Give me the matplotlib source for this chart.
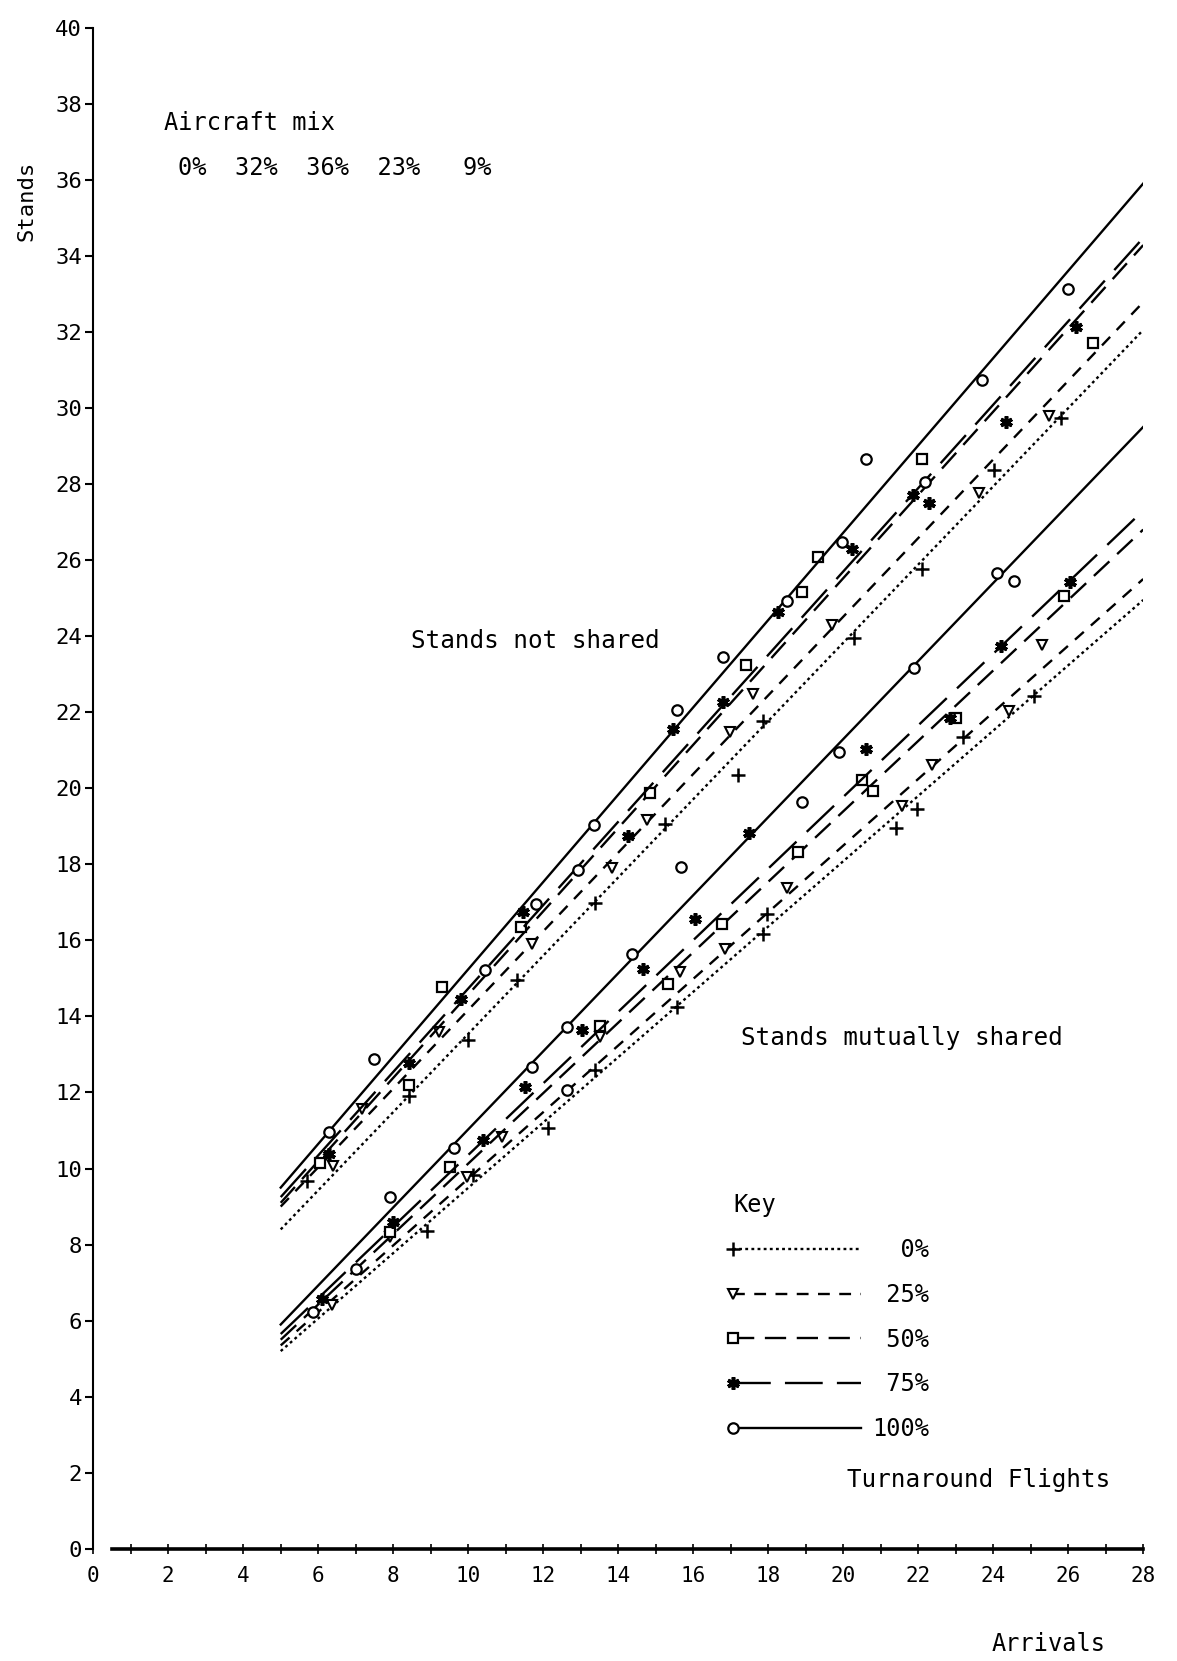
import numpy as np
import matplotlib
matplotlib.use('Agg')
import matplotlib.pyplot as plt
from matplotlib.lines import Line2D
from matplotlib.legend_handler import HandlerLine2D

plt.rcParams['font.family'] = ['DejaVu Sans Mono']

# fitted lines, drawn from 5 to 28 arrivals
fit_x = [5, 28]
# stands not shared
ns_0 = [8.4, 32.05]
ns_25 = [9.0, 32.78]
ns_50 = [9.1, 34.28]
ns_75 = [9.25, 34.47]
ns_100 = [9.5, 35.9]
# stands mutually shared
ms_0 = [5.2, 24.95]
ms_25 = [5.35, 25.5]
ms_50 = [5.5, 26.8]
ms_75 = [5.65, 27.3]
ms_100 = [5.9, 29.5]

# simulation points (both groups), per % of turnaround flights
p0_x = [5.69, 8.42, 10.0, 11.29, 13.38, 15.26, 17.2, 17.87, 20.3, 22.1, 24.03, 25.8,
        8.9, 10.13, 12.13, 13.38, 15.56, 17.87, 17.96, 21.4, 21.98, 23.2, 25.1]
p0_y = [9.67, 11.9, 13.38, 14.96, 16.97, 19.07, 20.36, 21.78, 23.96, 25.77, 28.37, 29.73,
        8.35, 9.83, 11.06, 12.58, 14.26, 16.18, 16.69, 18.95, 19.45, 21.35, 22.43]

p25_x = [6.4, 7.18, 9.21, 11.69, 13.83, 14.77, 16.98, 17.6, 19.69, 23.62, 25.5,
         6.36, 7.91, 9.96, 10.89, 13.51, 15.65, 16.86, 18.49, 21.56, 22.38, 24.42, 25.3]
p25_y = [10.07, 11.57, 13.6, 15.9, 17.89, 19.17, 21.47, 22.47, 24.28, 27.75, 29.78,
         6.41, 8.2, 9.78, 10.82, 13.47, 15.18, 15.76, 17.37, 19.53, 20.6, 22.03, 23.77]

p50_x = [6.05, 8.42, 9.3, 11.4, 14.86, 17.4, 18.9, 19.34, 22.1, 26.67,
         7.91, 9.51, 13.51, 15.34, 16.77, 18.8, 20.49, 20.79, 23.0, 25.9]
p50_y = [10.14, 12.2, 14.78, 16.36, 19.87, 23.25, 25.15, 26.07, 28.65, 31.71,
         8.34, 10.05, 13.75, 14.86, 16.44, 18.33, 20.22, 19.94, 21.85, 25.05]

p75_x = [6.29, 8.42, 9.8, 11.47, 14.27, 15.47, 16.8, 18.27, 20.23, 21.87, 22.3, 24.35, 26.21,
         6.09, 8.0, 10.4, 11.51, 13.03, 14.67, 16.05, 17.48, 20.6, 22.85, 24.2, 26.05]
p75_y = [10.38, 12.77, 14.46, 16.75, 18.74, 21.57, 22.27, 24.64, 26.28, 27.71, 27.49, 29.63, 32.14,
         6.56, 8.59, 10.76, 12.15, 13.64, 15.24, 16.55, 18.83, 21.03, 21.85, 23.74, 25.43]

p100_x = [6.29, 7.5, 10.45, 11.81, 12.94, 13.35, 15.56, 16.79, 18.49, 19.98, 20.6, 22.18, 23.69, 26.0, 15.67,
          5.87, 7.0, 7.91, 9.62, 11.7, 12.63, 12.63, 14.36, 18.89, 19.9, 21.9, 24.1, 24.55]
p100_y = [10.97, 12.87, 15.22, 16.95, 17.85, 19.03, 22.06, 23.46, 24.92, 26.48, 28.66, 28.06, 30.73, 33.12, 17.94,
          6.23, 7.35, 9.24, 10.55, 12.67, 13.73, 12.06, 15.64, 19.64, 20.94, 23.15, 25.66, 25.45]

key_labels = ['  0%', ' 25%', ' 50%', ' 75%', '100%']
mix_text = '0%  32%  36%  23%   9%'

styles = [
    dict(ls=(0, (1.2, 1.4)), marker='+', ms=10, mew=1.8),
    dict(ls=(0, (5, 4)), marker='v', ms=7, mew=1.5, mfc='white'),
    dict(ls=(0, (9, 4.5)), marker='s', ms=7, mew=1.6, mfc='white'),
    dict(ls=(0, (16, 6)), marker=(6, 2, 0), ms=9, mew=2.6),
    dict(ls='-', marker='o', ms=7.5, mew=1.6, mfc='white'),
]
ns_lines = [ns_0, ns_25, ns_50, ns_75, ns_100]
ms_lines = [ms_0, ms_25, ms_50, ms_75, ms_100]
pts = [(p0_x, p0_y), (p25_x, p25_y), (p50_x, p50_y), (p75_x, p75_y), (p100_x, p100_y)]


class MarkerLeft(HandlerLine2D):
    # key sample: marker sits at the left end of the line
    def create_artists(self, legend, orig_handle, xdescent, ydescent,
                       width, height, fontsize, trans):
        y = (height - ydescent) / 2
        line = Line2D([-xdescent, -xdescent + width], [y, y])
        self.update_prop(line, orig_handle, legend)
        line.set_marker('None')
        mark = Line2D([-xdescent], [y])
        self.update_prop(mark, orig_handle, legend)
        mark.set_linestyle('None')
        line.set_transform(trans)
        mark.set_transform(trans)
        return [line, mark]


fig = plt.figure(figsize=(11.77, 16.61), dpi=100)
ax = fig.add_axes([0.0792, 0.0675, 0.8921, 0.9159])

handles = []
for st, ns, ms, (px, py) in zip(styles, ns_lines, ms_lines, pts):
    ax.plot(fit_x, ns, color='black', lw=1.7, ls=st['ls'])
    ax.plot(fit_x, ms, color='black', lw=1.7, ls=st['ls'])
    ax.plot(px, py, ls='none', color='black', marker=st['marker'], ms=st['ms'],
            mew=st['mew'], mfc=st.get('mfc', 'black'), mec='black', clip_on=False)
    handles.append(Line2D([], [], color='black', lw=1.7, ls=st['ls'], marker=st['marker'],
                          ms=st['ms'], mew=st['mew'], mfc=st.get('mfc', 'black'), mec='black'))

ax.set_xlim(0, 28)
ax.set_ylim(0, 40)
ax.set_xticks(np.arange(0, 29, 2))
ax.set_xticks(np.arange(0, 29, 1), minor=True)
ax.set_yticks(np.arange(0, 41, 2))
ax.tick_params(axis='y', direction='out', length=6, width=1.5, pad=2, labelsize=16)
ax.tick_params(axis='x', which='both', direction='inout', length=7, width=1.2, pad=9, labelsize=15)
for side in ['top', 'right']:
    ax.spines[side].set_visible(False)
ax.spines['bottom'].set_bounds(0.5, 28)
ax.spines['bottom'].set_linewidth(2.6)
ax.spines['left'].set_linewidth(1.5)

ax.text(1.9, 37.5, 'Aircraft mix', fontsize=17, va='center')
ax.text(2.26, 36.3, mix_text, fontsize=17, va='center')
ax.text(8.47, 23.87, 'Stands not shared', fontsize=17.5, va='center')
ax.text(17.27, 13.43, 'Stands mutually shared', fontsize=17.5, va='center')
ax.text(20.1, 1.81, 'Turnaround Flights', fontsize=17.5, va='center')

leg = ax.legend(handles, key_labels, loc='upper left', bbox_to_anchor=(16.75, 9.66),
                bbox_transform=ax.transData, frameon=False, title='Key', alignment='left',
                fontsize=17, title_fontsize=17, handlelength=5.4, handletextpad=0.5,
                labelspacing=0.88, borderpad=0, handler_map={Line2D: MarkerLeft()})

fig.text(0.0225, 0.879, 'Stands', rotation=90, fontsize=16, ha='center', va='center')
fig.text(0.891, 0.0102, 'Arrivals', fontsize=17, ha='center', va='center')

fig.savefig('out.png', dpi=100, facecolor='white')
